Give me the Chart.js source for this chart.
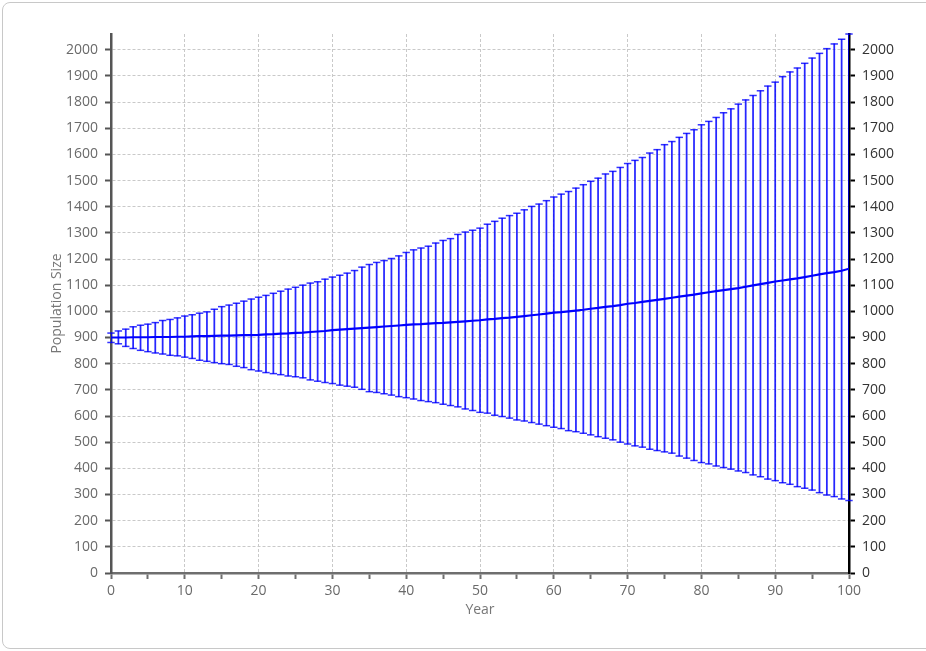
<!DOCTYPE html>
<html>
<head>
<meta charset="utf-8">
<script src="https://cdn.jsdelivr.net/npm/chart.js@4/dist/chart.umd.min.js"></script>
<style>
    html, body { margin: 0; padding: 0; background: #fff; overflow: hidden; }
    #wrap { position: relative; width: 926px; height: 651px; }
    #frame {
        position: absolute; left: 2px; top: 2px; width: 950px; height: 645px;
        border: 1px solid #c8c8c8; border-radius: 8px; pointer-events: none;
    }
</style>
</head>
<body>
<div id="wrap">
    <canvas id="populationChart" width="926" height="651"></canvas>
    <div id="frame"></div>
</div>
<script>
var years = [];
for (var i = 0; i <= 100; i++) { years.push(i); }

var meanPopulation = [
    900, 900, 900, 901, 901, 901, 902, 902, 902, 903,
    903, 904, 905, 905, 906, 907, 907, 908, 909, 909,
    910, 912, 913, 915, 916, 918, 919, 921, 923, 925,
    928, 930, 932, 934, 936, 938, 940, 942, 944, 946,
    948, 950, 951, 953, 955, 956, 958, 960, 962, 964,
    966, 969, 971, 974, 976, 979, 982, 985, 988, 991,
    995, 997, 1000, 1003, 1006, 1010, 1013, 1017, 1020, 1024,
    1029, 1032, 1036, 1040, 1044, 1048, 1052, 1056, 1060, 1064,
    1069, 1073, 1077, 1081, 1085, 1089, 1094, 1099, 1104, 1109,
    1114, 1118, 1122, 1126, 1131, 1136, 1141, 1146, 1150, 1155, 1163
];

var upperPopulation = [
    917, 925, 932, 941, 947, 951, 957, 965, 969, 975,
    982, 987, 993, 998, 1008, 1018, 1024, 1031, 1039, 1047,
    1054, 1061, 1069, 1077, 1085, 1092, 1100, 1108, 1113, 1123,
    1131, 1138, 1146, 1156, 1169, 1179, 1187, 1194, 1202, 1212,
    1225, 1235, 1242, 1249, 1261, 1271, 1278, 1294, 1303, 1310,
    1318, 1333, 1344, 1356, 1366, 1375, 1388, 1401, 1410, 1423,
    1437, 1448, 1458, 1471, 1484, 1497, 1509, 1525, 1535, 1550,
    1565, 1577, 1588, 1605, 1618, 1637, 1649, 1665, 1680, 1694,
    1713, 1726, 1741, 1759, 1774, 1792, 1808, 1825, 1843, 1861,
    1876, 1897, 1915, 1930, 1948, 1968, 1986, 2004, 2022, 2040, 2060
];

var lowerPopulation = [
    881, 876, 866, 858, 851, 846, 841, 837, 832, 830,
    825, 820, 813, 809, 804, 800, 797, 790, 785, 777,
    772, 766, 762, 758, 753, 750, 746, 738, 733, 728,
    724, 718, 714, 710, 702, 693, 690, 685, 680, 674,
    670, 665, 659, 655, 651, 645, 640, 635, 627, 621,
    614, 611, 603, 598, 592, 585, 581, 575, 569, 563,
    557, 552, 544, 540, 534, 528, 521, 515, 509, 500,
    493, 486, 481, 473, 468, 463, 458, 447, 439, 430,
    422, 417, 409, 403, 397, 390, 384, 375, 368, 359,
    353, 345, 339, 330, 324, 317, 307, 298, 292, 283, 277
];

var yMax = 2060;
var xTickStep = 5;
var yTickStep = 50;

var fontFamily = '"Open Sans", "Liberation Sans", sans-serif';
var blue = '#0000ff';
var gridColor = '#c9c9c9';

// build point lists from the arrays
var rangeData = years.map(function (y, i) { return { x: y, y: [lowerPopulation[i], upperPopulation[i]] }; });
var meanData = years.map(function (y, i) { return { x: y, y: meanPopulation[i] }; });
var capData = [];
years.forEach(function (y, i) {
    capData.push({ x: y, y: upperPopulation[i] });
    capData.push({ x: y, y: lowerPopulation[i] });
});

function yGrid(ctx) {
    return ctx.tick && ctx.tick.value % 100 === 0 ? gridColor : 'rgba(0,0,0,0)';
}
function xGrid(ctx) {
    return ctx.tick && ctx.tick.value % 10 === 0 ? gridColor : 'rgba(0,0,0,0)';
}

var ctx = document.getElementById('populationChart').getContext('2d');
new Chart(ctx, {
    type: 'bar',
    data: {
        datasets: [
            {
                type: 'line',
                data: meanData,
                borderColor: blue,
                borderWidth: 2.2,
                pointRadius: 0,
                tension: 0,
                order: 0
            },
            {
                type: 'line',
                data: capData,
                showLine: false,
                pointStyle: 'line',
                pointRadius: 3.7,
                pointBorderWidth: 1.5,
                pointBorderColor: 'rgba(0,0,255,0.8)',
                clip: false,
                order: 1
            },
            {
                type: 'bar',
                data: rangeData,
                backgroundColor: 'rgba(0,0,255,0.85)',
                borderWidth: 0,
                barThickness: 1.1,
                order: 2
            }
        ]
    },
    options: {
        responsive: false,
        animation: false,
        events: [],
        layout: { padding: { left: 46, top: 34, right: 0, bottom: 30 } },
        plugins: {
            legend: { display: false },
            tooltip: { enabled: false }
        },
        scales: {
            x: {
                type: 'linear',
                min: 0,
                max: 100,
                offset: false,
                grid: { offset: false, color: xGrid, tickColor: '#6e6e6e', tickLength: 6, tickWidth: 2 },
                border: { color: '#6e6e6e', width: 2.5, dash: [3, 2] },
                ticks: {
                    stepSize: xTickStep,
                    padding: 4,
                    color: '#6a6a6a',
                    font: { family: fontFamily, size: 14 },
                    callback: function (v) { return v % 10 === 0 ? v : ''; }
                },
                title: { display: true, text: 'Year', color: '#777', font: { family: fontFamily, size: 14 }, padding: { top: 2, bottom: 3 } },
                afterFit: function (scale) { scale.height = 48; }
            },
            y: {
                position: 'left',
                min: 0,
                max: yMax,
                grid: { color: yGrid, tickColor: '#555', tickLength: 6, tickWidth: 2 },
                border: { color: '#555', width: 2.5, dash: [3, 2] },
                ticks: {
                    stepSize: yTickStep,
                    includeBounds: false,
                    padding: 7,
                    color: '#6a6a6a',
                    font: { family: fontFamily, size: 14 },
                    callback: function (v) { return v % 100 === 0 ? v : ''; }
                },
                title: { display: true, text: 'Population Size', color: '#777', font: { family: fontFamily, size: 14 }, padding: { top: 3, bottom: 3 } },
                afterFit: function (scale) { scale.width = 65; }
            },
            y2: {
                position: 'right',
                min: 0,
                max: yMax,
                grid: { drawOnChartArea: false, tickColor: '#000', tickLength: 6, tickWidth: 2 },
                border: { color: '#000', width: 2.5 },
                ticks: {
                    stepSize: yTickStep,
                    includeBounds: false,
                    padding: 7,
                    color: '#333',
                    font: { family: fontFamily, size: 14 },
                    callback: function (v) { return v % 100 === 0 ? v : ''; }
                },
                afterFit: function (scale) { scale.width = 77; }
            }
        }
    }
});
</script>
</body>
</html>
